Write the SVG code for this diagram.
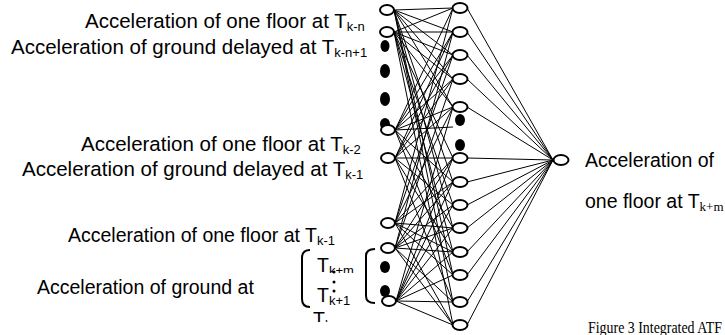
<svg xmlns="http://www.w3.org/2000/svg" width="725" height="335" viewBox="0 0 725 335">
<style>
text{font-family:"Liberation Sans",Arial,sans-serif;font-size:19.5px;fill:#000}
.big{font-size:20.5px}
.sub{font-size:13px}
.ser{font-family:"Liberation Serif","Times New Roman",serif}
.open{fill:#fff;stroke:#000;stroke-width:2}
.dot{fill:#000}
.conn{fill:none;stroke:#000;stroke-width:1}
.br{fill:none;stroke:#000;stroke-width:2}
</style>
<defs>
<clipPath id="c1"><rect x="300" y="240" width="60" height="33"/></clipPath>
<clipPath id="c2"><rect x="300" y="305" width="60" height="17"/></clipPath>
</defs>
<g id="connectors" class="conn">
<path d="M394 10L453 8M394 10L453 32M394 10L453 55M394 10L453 79M394 10L453 107M394 10L453 182M394 10L453 228M394 10L453 275M394 10L453 302"/>
<path d="M394 32L453 8M394 32L453 32M394 32L453 55M394 32L453 79M394 32L453 107M394 32L453 158M394 32L453 205M394 32L453 252M394 32L453 325"/>
<path d="M395 130L453 8M395 130L453 32M395 130L453 55M395 130L453 79M395 130L453 107M395 130L453 127M395 130L453 182M395 130L453 228M395 130L453 275"/>
<path d="M395 158L453 32M395 158L453 55M395 158L453 79M395 158L453 107M395 158L453 158M395 158L453 205M395 158L453 252M395 158L453 302"/>
<path d="M395 223L453 8M395 223L453 55M395 223L453 107M395 223L453 158M395 223L453 182M395 223L453 228M395 223L453 252M395 223L453 275M395 223L453 325"/>
<path d="M395 248L453 32M395 248L453 79M395 248L453 158M395 248L453 182M395 248L453 205M395 248L453 228M395 248L453 252M395 248L453 302M395 248L453 325"/>
<path d="M396 301L453 107M396 301L453 158M396 301L453 182M396 301L453 205M396 301L453 228M396 301L453 252M396 301L453 275M396 301L453 302M396 301L453 325"/>
<path d="M467 8L553 160M467 32L553 160M467 55L553 160M467 79L553 160M467 107L553 160M467 158L553 160M467 182L553 160M467 205L553 160M467 228L553 160M467 252L553 160M467 275L553 160M467 302L553 160M467 325L553 160"/>
</g>
<g id="input-layer">
<ellipse class="open" cx="387" cy="10" rx="7" ry="5"/>
<ellipse class="open" cx="387" cy="32" rx="7" ry="5"/>
<ellipse class="dot" cx="385" cy="46" rx="4.5" ry="6"/>
<ellipse class="dot" cx="385" cy="71" rx="5" ry="7"/>
<ellipse class="dot" cx="385" cy="99" rx="5" ry="7"/>
<ellipse class="dot" cx="385" cy="124" rx="5" ry="6"/>
<ellipse class="open" cx="388" cy="130" rx="7" ry="5"/>
<ellipse class="open" cx="388" cy="158" rx="7" ry="5"/>
<ellipse class="open" cx="388" cy="223" rx="7" ry="5"/>
<ellipse class="open" cx="388" cy="248" rx="7" ry="5"/>
<ellipse class="dot" cx="385" cy="267" rx="5" ry="6"/>
<ellipse class="dot" cx="385" cy="291" rx="5" ry="6"/>
<ellipse class="open" cx="389" cy="301" rx="7" ry="5"/>
</g>
<g id="hidden-layer">
<ellipse class="open" cx="460" cy="8" rx="7.5" ry="5"/>
<ellipse class="open" cx="460" cy="32" rx="7.5" ry="5"/>
<ellipse class="open" cx="460" cy="55" rx="7.5" ry="5"/>
<ellipse class="open" cx="460" cy="79" rx="7.5" ry="5"/>
<ellipse class="open" cx="460" cy="107" rx="7.5" ry="5"/>
<ellipse class="dot" cx="460" cy="120" rx="5" ry="6"/>
<ellipse class="dot" cx="460" cy="145" rx="5" ry="6"/>
<ellipse class="open" cx="460" cy="158" rx="7.5" ry="5"/>
<ellipse class="open" cx="460" cy="182" rx="7.5" ry="5"/>
<ellipse class="open" cx="460" cy="205" rx="7.5" ry="5"/>
<ellipse class="open" cx="460" cy="228" rx="7.5" ry="5"/>
<ellipse class="open" cx="460" cy="252" rx="7.5" ry="5"/>
<ellipse class="open" cx="460" cy="275" rx="7.5" ry="5"/>
<ellipse class="open" cx="460" cy="302" rx="7.5" ry="5"/>
<ellipse class="open" cx="460" cy="325" rx="7.5" ry="5"/>
</g>
<g id="output-node">
<ellipse class="open" cx="561" cy="160" rx="7.5" ry="5"/>
<text x="585" y="167">Acceleration of</text>
<text x="585" y="208">one floor at T<tspan class="sub ser" dy="3">k+m</tspan></text>
</g>
<g id="input-labels">
<text class="big" x="85" y="28">Acceleration of one floor at T<tspan class="sub" dy="3">k-n</tspan></text>
<text class="big" x="11" y="54">Acceleration of ground delayed at T<tspan class="sub" dy="3">k-n+1</tspan></text>
<text class="big" x="81" y="151">Acceleration of one floor at T<tspan class="sub" dy="3">k-2</tspan></text>
<text class="big" x="22" y="176">Acceleration of ground delayed at T<tspan class="sub" dy="3">k-1</tspan></text>
<text x="68" y="242">Acceleration of one floor at T<tspan class="sub" dy="3">k-1</tspan></text>
<text x="37" y="294">Acceleration of ground at</text>
</g>
<g id="ground-bracket">
<path class="br" d="M310 250Q302 250 302 258L302 299Q302 307 310 307"/>
<path class="br" d="M375 249Q366 249 366 256L366 296Q366 303 375 303"/>
<text x="317" y="272" clip-path="url(#c1)">T<tspan class="sub" dy="3">k+m</tspan></text>
<circle cx="334" cy="272" r="1.5"/>
<circle cx="334" cy="282" r="1.5"/>
<circle cx="334" cy="291" r="1.5"/>
<text x="317" y="302">T<tspan class="sub" dy="3">k+1</tspan></text>
<text x="313" y="326" clip-path="url(#c2)">T<tspan class="sub" dy="3">k</tspan></text>
</g>
<text class="ser" x="588" y="333" style="font-size:16px" textLength="134" lengthAdjust="spacingAndGlyphs">Figure 3 Integrated ATF</text>
</svg>
